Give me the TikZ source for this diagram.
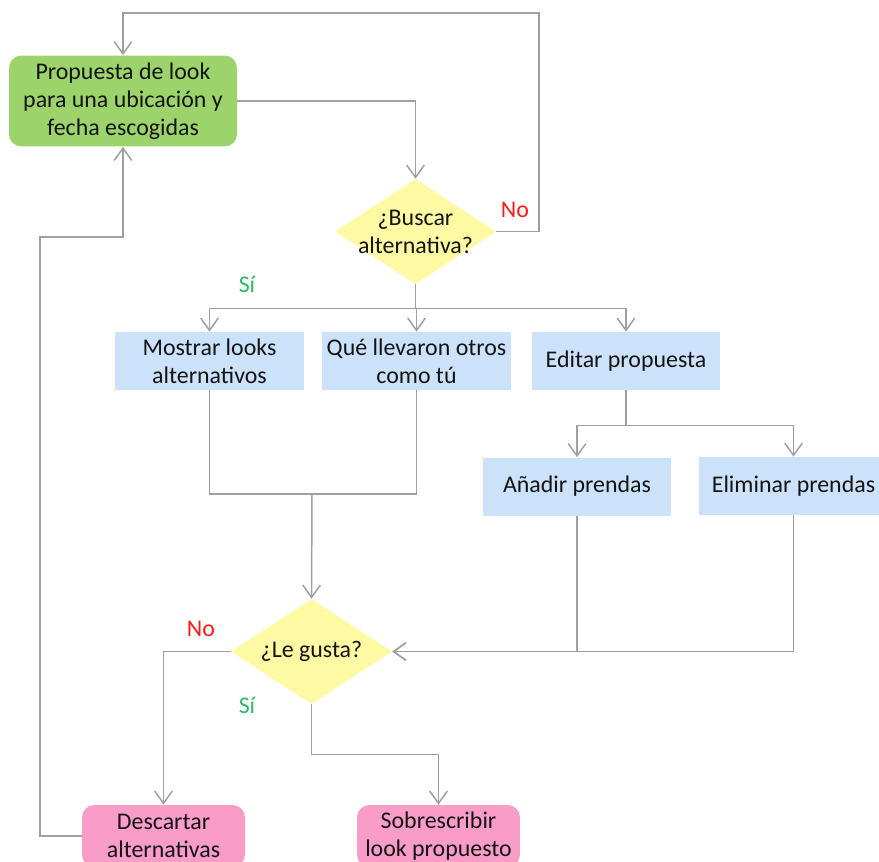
\documentclass[tikz,border=0pt]{standalone}
\usepackage{fontspec}
\setmainfont{Carlito}
\usetikzlibrary{shapes.geometric,arrows.meta}

\definecolor{verde}{HTML}{9CD36B}
\definecolor{amarillo}{HTML}{FEFAA3}
\definecolor{azul}{HTML}{CCE1FA}
\definecolor{rosa}{HTML}{F99CC8}
\definecolor{gris}{HTML}{A0A0A0}
\definecolor{rojo}{HTML}{FF1A1A}
\definecolor{verdesi}{HTML}{2EB868}

\begin{document}
\begin{tikzpicture}[x=0.02cm,y=-0.02cm,>={Straight Barb[length=7pt,width=10pt]},
        every node/.style={font=\fontsize{13.6pt}{15.9pt}\selectfont,align=center,text=black!92},
        inicio/.style={fill=verde,rounded corners=7pt,minimum width=4.56cm,minimum height=1.82cm,inner sep=0pt},
        decision/.style={diamond,fill=amarillo,minimum width=3.22cm,minimum height=2.1cm,inner sep=0pt},
        accion/.style={fill=azul,minimum width=3.78cm,minimum height=1.16cm,inner sep=0pt},
        final/.style={fill=rosa,rounded corners=7pt,minimum width=3.26cm,minimum height=1.24cm,inner sep=0pt},
        flecha/.style={->,draw=gris,line width=0.85pt},
        linea/.style={draw=gris,line width=0.85pt},
        no/.style={text=rojo},
        si/.style={text=verdesi}]
        \useasboundingbox (0,0) rectangle (879,862);

        \node[inicio] (propuesta) at (123,101) {Propuesta de look\\para una ubicación y\\fecha escogidas};
        \node[decision,label={[align=center]center:¿Buscar\\alternativa?}] (buscar) at (415.5,231.5) {};
        \node[accion] (mostrar) at (209.5,361) {Mostrar looks\\alternativos};
        \node[accion] (otros) at (416.5,361) {Qué llevaron otros\\como tú};
        \node[accion] (editar) at (626,361) {Editar propuesta};
        \node[accion] (anadir) at (577,486.5) {Añadir prendas};
        \node[accion] (eliminar) at (793.5,486) {Eliminar prendas};
        \node[decision,label={center:¿Le gusta?}] (gusta) at (311.5,651.5) {};
        \node[final] (descartar) at (163.5,836) {Descartar\\alternativas};
        \node[final] (sobrescribir) at (438.5,836) {Sobrescribir\\look propuesto};

        \node[no] (no1) at (515,210) {No};
        \node[si] (si1) at (247,284) {Sí};
        \node[no] (no2) at (201,629) {No};
        \node[si] (si2) at (247,705) {Sí};

        \coordinate (vuelta) at (539,13);
        \coordinate (retorno) at (40,237);
        \coordinate (union) at (312,494);

        \draw[flecha] (propuesta.east) -| (buscar.north);
        \draw[flecha] (buscar.east) -| (vuelta) -| (propuesta.north);

        \draw[linea] (buscar.south) -- ++(0,24) coordinate (rama);
        \draw[flecha] (rama) -| (mostrar.north);
        \draw[flecha] (rama) -| (otros.north);
        \draw[flecha] (rama) -| (editar.north);

        \draw[linea] (editar.south) -- ++(0,35) coordinate (rama2);
        \draw[flecha] (rama2) -| (anadir.north);
        \draw[flecha] (rama2) -| (eliminar.north);

        \draw[linea] (mostrar.south) |- (union);
        \draw[linea] (otros.south) |- (union);
        \draw[flecha] (union) -- (gusta.north);

        \draw[flecha] (anadir.south) |- (gusta.east);
        \draw[flecha] (eliminar.south) |- (gusta.east);

        \draw[flecha] (gusta.west) -| (descartar.north);
        \draw[flecha] (gusta.south) -- ++(0,50) -| (sobrescribir.north);
        \draw[flecha] (descartar.west) -| (retorno) -| (propuesta.south);
    \end{tikzpicture}
\end{document}
